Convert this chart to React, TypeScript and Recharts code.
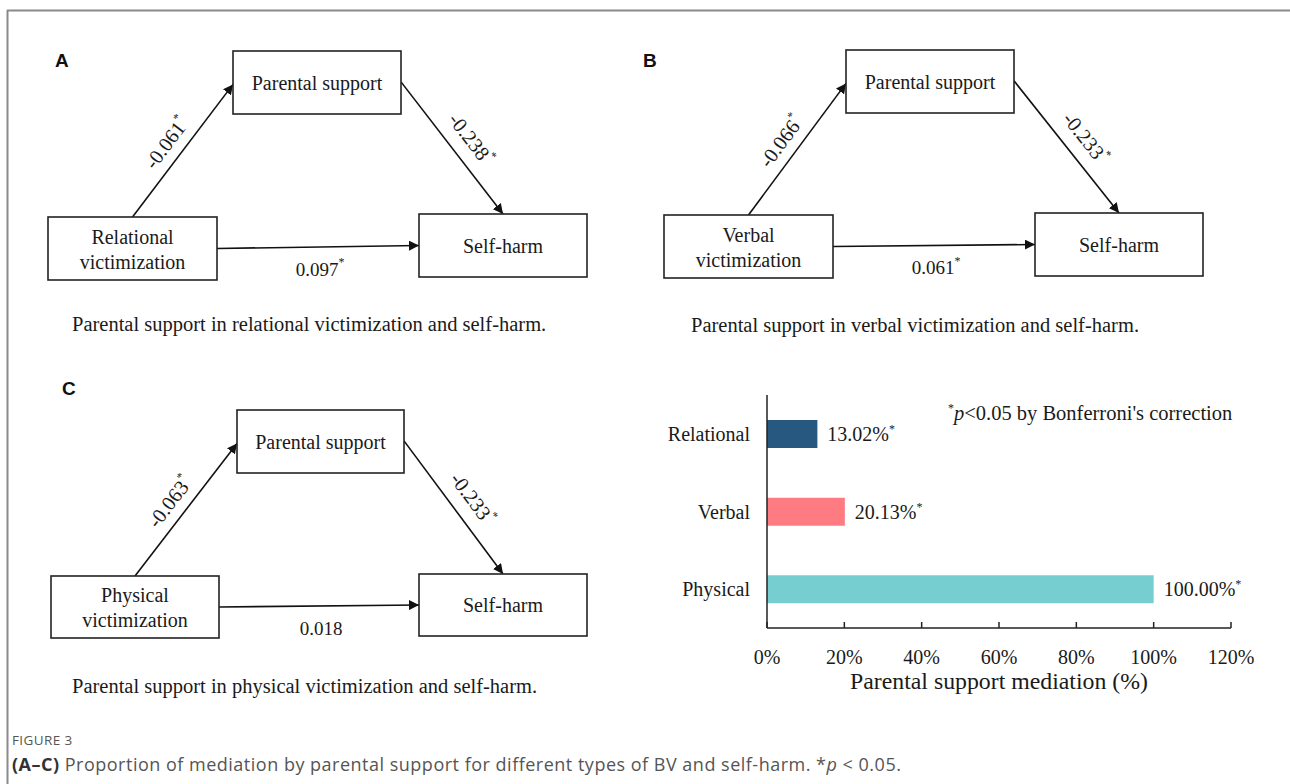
import { Bar, BarChart, Cell, LabelList, XAxis, YAxis } from 'recharts'

// bar chart data
const mediationTypes = ['Relational', 'Verbal', 'Physical']
const mediationPct = [13.02, 20.13, 100.0]
const mediationColors = ['#27587f', '#fe7b81', '#77ced1']
const xTicks = [0, 20, 40, 60, 80, 100, 120]

// path diagram data
const panelIds = ['A', 'B', 'C']
const predictorNames = ['Relational', 'Verbal', 'Physical']
const pathToMediator = ['-0.061', '-0.066', '-0.063']
const pathToOutcome = ['-0.238', '-0.233', '-0.233']
const directPath = ['0.097', '0.061', '0.018']
const directSig = [true, true, false]
const panelCaptions = [
  'Parental support in relational victimization and self-harm.',
  'Parental support in verbal victimization and self-harm.',
  'Parental support in physical victimization and self-harm.',
]

const SERIF = '"Liberation Serif", "Times New Roman", serif'
const SANS = '"Liberation Sans", Arial, sans-serif'
const INK = '#1a1a1a'

type Box = { x: number; y: number; w: number; h: number }
type PanelGeom = { letter: [number, number]; caption: [number, number]; med: Box; pred: Box; out: Box }

const geoms: PanelGeom[] = [
  {
    letter: [55, 67], caption: [72, 331],
    med: { x: 233, y: 51, w: 168, h: 63 },
    pred: { x: 48, y: 217, w: 169, h: 63 },
    out: { x: 419, y: 214, w: 168, h: 63 },
  },
  {
    letter: [643, 67], caption: [691, 332],
    med: { x: 846, y: 50, w: 168, h: 63 },
    pred: { x: 664, y: 215, w: 169, h: 63 },
    out: { x: 1035, y: 213, w: 168, h: 63 },
  },
  {
    letter: [62, 395], caption: [72, 693],
    med: { x: 237, y: 410, w: 167, h: 63 },
    pred: { x: 51, y: 576, w: 168, h: 62 },
    out: { x: 419, y: 574, w: 168, h: 62 },
  },
]

function Coef({ x, y, value, sig, angle, size = 19 }: { x: number; y: number; value: string; sig: boolean; angle?: number; size?: number }) {
  return (
    <text
      x={x}
      y={y}
      textAnchor="middle"
      dominantBaseline="central"
      fontFamily={SERIF}
      fontSize={size}
      fill={INK}
      transform={angle ? `rotate(${angle} ${x} ${y})` : undefined}
    >
      {value}
      {sig && <tspan dy={-7} fontSize={12}>*</tspan>}
    </text>
  )
}

function Panel({ i }: { i: number }) {
  const g = geoms[i]
  const { med, pred, out } = g
  const a1 = { x1: pred.x + pred.w / 2, y1: pred.y, x2: med.x, y2: med.y + med.h * 0.53 }
  const a2 = { x1: med.x + med.w, y1: med.y + med.h * 0.49, x2: out.x + out.w * 0.5, y2: out.y }
  const a3 = { x1: pred.x + pred.w, y1: pred.y + pred.h / 2, x2: out.x, y2: out.y + out.h / 2 }
  const ang1 = (Math.atan2(a1.y2 - a1.y1, a1.x2 - a1.x1) * 180) / Math.PI
  const ang2 = (Math.atan2(a2.y2 - a2.y1, a2.x2 - a2.x1) * 180) / Math.PI
  const boxStyle = { fill: '#fff', stroke: '#222', strokeWidth: 1.6 }
  return (
    <g>
      <text x={g.letter[0]} y={g.letter[1]} fontFamily={SANS} fontWeight={700} fontSize={19} fill="#111">
        {panelIds[i]}
      </text>
      {[a1, a2, a3].map((a, k) => (
        <line key={k} {...a} stroke="#111" strokeWidth={1.6} markerEnd="url(#arrow)" />
      ))}
      <rect x={med.x} y={med.y} width={med.w} height={med.h} {...boxStyle} />
      <rect x={pred.x} y={pred.y} width={pred.w} height={pred.h} {...boxStyle} />
      <rect x={out.x} y={out.y} width={out.w} height={out.h} {...boxStyle} />
      <text x={med.x + med.w / 2} y={med.y + med.h / 2} textAnchor="middle" dominantBaseline="central" fontFamily={SERIF} fontSize={20} fill={INK}>
        Parental support
      </text>
      <text x={pred.x + pred.w / 2} y={pred.y + pred.h / 2 - 12} textAnchor="middle" dominantBaseline="central" fontFamily={SERIF} fontSize={20} fill={INK}>
        {predictorNames[i]}
      </text>
      <text x={pred.x + pred.w / 2} y={pred.y + pred.h / 2 + 13} textAnchor="middle" dominantBaseline="central" fontFamily={SERIF} fontSize={20} fill={INK}>
        victimization
      </text>
      <text x={out.x + out.w / 2} y={out.y + out.h / 2} textAnchor="middle" dominantBaseline="central" fontFamily={SERIF} fontSize={20} fill={INK}>
        Self-harm
      </text>
      <Coef x={(a1.x1 + a1.x2) / 2 - 16} y={(a1.y1 + a1.y2) / 2 - 8} value={pathToMediator[i]} sig angle={ang1} size={20.5} />
      <Coef x={(a2.x1 + a2.x2) / 2 + 19} y={(a2.y1 + a2.y2) / 2 - 9} value={pathToOutcome[i]} sig angle={ang2} size={20.5} />
      <Coef x={(a3.x1 + a3.x2) / 2 + 2} y={(a3.y1 + a3.y2) / 2 + 22} value={directPath[i]} sig={directSig[i]} />
      <text x={g.caption[0]} y={g.caption[1]} fontFamily={SERIF} fontSize={20.5} fill={INK}>
        {panelCaptions[i]}
      </text>
    </g>
  )
}

const XTick = (props: any) => {
  const { x, y, payload } = props
  return (
    <g>
      <line x1={x} x2={x} y1={y} y2={y - 6} stroke="#222" strokeWidth={1.5} />
      <text x={x} y={y + 36} textAnchor="middle" fontFamily={SERIF} fontSize={20} fill={INK}>
        {payload.value}%
      </text>
    </g>
  )
}

const renderValueLabel = (props: any) => {
  const { x, y, width, height, value } = props
  return (
    <text x={Number(x) + Number(width) + 10} y={Number(y) + Number(height) / 2 + 7} fontFamily={SERIF} fontSize={20} fill={INK}>
      {Number(value).toFixed(2)}%<tspan dy={-8} fontSize={12}>*</tspan>
    </text>
  )
}

export default function App() {
  const data = mediationTypes.map((name, i) => ({ name, value: mediationPct[i] }))
  return (
    <div style={{ position: 'absolute', left: 0, top: 0, width: 1290, height: 784, background: '#fff', overflow: 'hidden' }}>
      <svg width={1290} height={784} style={{ position: 'absolute', left: 0, top: 0 }}>
        <defs>
          <marker id="arrow" viewBox="0 0 10 10" refX={10} refY={5} markerWidth={10} markerHeight={10} markerUnits="userSpaceOnUse" orient="auto">
            <path d="M0,0 L10,5 L0,10 z" fill="#111" />
          </marker>
        </defs>
        <line x1={7} y1={10.5} x2={1290} y2={10.5} stroke="#8a8a8a" strokeWidth={2} />
        <line x1={7.5} y1={10} x2={7.5} y2={784} stroke="#8a8a8a" strokeWidth={2} />
        {panelIds.map((_, i) => (
          <Panel key={i} i={i} />
        ))}
        <text x={948} y={420} fontFamily={SERIF} fontSize={20.5} fill={INK}>
          <tspan fontSize={12} dy={-8}>*</tspan>
          <tspan dy={8} fontStyle="italic">p</tspan>
          {'<0.05 by Bonferroni\'s correction'}
        </text>
        <text x={12} y={745} fontFamily='"Open Sans", sans-serif' fontSize={13.5} fill="#555" letterSpacing={0.4}>
          FIGURE 3
        </text>
        <text x={12} y={771} fontFamily='"Open Sans", sans-serif' fontSize={18} fill="#555" letterSpacing={0.5}>
          <tspan fontWeight={700} fill="#333">(A–C)</tspan>
          {' Proportion of mediation by parental support for different types of BV and self-harm. *'}
          <tspan fontStyle="italic">p</tspan>
          {' < 0.05.'}
        </text>
      </svg>
      <div style={{ position: 'absolute', left: 640, top: 380 }}>
        <BarChart width={650} height={320} data={data} layout="vertical" margin={{ top: 15, right: 59, left: 0, bottom: 0 }}>
          <XAxis
            type="number"
            domain={[0, 120]}
            ticks={xTicks}
            height={72}
            tickSize={0}
            tickMargin={0}
            tickLine={false}
            tick={<XTick />}
            axisLine={{ stroke: '#222', strokeWidth: 1.5 }}
            label={{ value: 'Parental support mediation (%)', position: 'insideBottom', offset: 11, fontFamily: SERIF, fontSize: 23.8, fill: INK }}
          />
          <YAxis
            type="category"
            dataKey="name"
            width={127}
            tickLine={false}
            tickSize={0}
            tickMargin={17}
            axisLine={{ stroke: '#222', strokeWidth: 1.5 }}
            tick={{ fontFamily: SERIF, fontSize: 20, fill: INK }}
          />
          <Bar dataKey="value" barSize={28} isAnimationActive={false}>
            {data.map((d, i) => (
              <Cell key={d.name} fill={mediationColors[i]} />
            ))}
            <LabelList dataKey="value" content={renderValueLabel} />
          </Bar>
        </BarChart>
      </div>
    </div>
  )
}
